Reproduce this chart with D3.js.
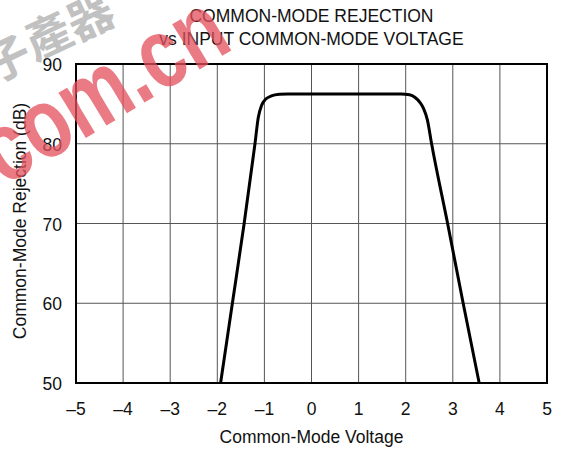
<!DOCTYPE html>
<html>
<head>
<meta charset="utf-8">
<script src="https://cdn.jsdelivr.net/npm/d3@7"></script>
<style>
  body { margin: 0; background: #fff; }
  svg text { font-family: 'Liberation Sans', Arial, sans-serif; }
</style>
</head>
<body>
<div id="chart"></div>
<script>
// curve: input common-mode voltage (V) vs CMR (dB)
const voltage = [-1.93, -1.68, -1.43, -1.2, -1.13, -1.06, -0.97, -0.85, -0.68, -0.5, 0, 1, 1.9, 2.08, 2.2, 2.3, 2.38, 2.46, 2.55, 2.89, 3.22, 3.56];
const cmr = [50, 60, 70, 80, 83.3, 84.8, 85.6, 86.0, 86.2, 86.25, 86.25, 86.25, 86.25, 86.15, 85.8, 85.2, 84.4, 83.0, 80, 70, 60, 50];
const xTicks = [-5, -4, -3, -2, -1, 0, 1, 2, 3, 4, 5];
const yTicks = [50, 60, 70, 80, 90];
const titleLines = ['COMMON-MODE REJECTION', 'vs INPUT COMMON-MODE VOLTAGE'];

const width = 565;
const height = 450;
const margin = { top: 64, right: 18, bottom: 67, left: 76 };
const w = width - margin.left - margin.right;
const h = height - margin.top - margin.bottom;
const fs = '17.5px';

const svg = d3
  .select('#chart')
  .append('svg')
  .attr('width', width)
  .attr('height', height);

const x = d3.scaleLinear().domain([-5, 5]).range([0, w]);
const y = d3.scaleLinear().domain([50, 90]).range([h, 0]);

const g = svg.append('g').attr('transform', 'translate(' + margin.left + ',' + margin.top + ')');

// grid
g.append('g')
  .selectAll('line')
  .data(xTicks.slice(1, -1))
  .join('line')
  .attr('x1', (d) => x(d))
  .attr('x2', (d) => x(d))
  .attr('y1', 0)
  .attr('y2', h)
  .style('stroke', '#555')
  .style('stroke-width', 1);

g.append('g')
  .selectAll('line')
  .data(yTicks.slice(1, -1))
  .join('line')
  .attr('x1', 0)
  .attr('x2', w)
  .attr('y1', (d) => y(d))
  .attr('y2', (d) => y(d))
  .style('stroke', '#555')
  .style('stroke-width', 1);

// tick labels
g.append('g')
  .selectAll('text')
  .data(xTicks)
  .join('text')
  .text((d) => (d < 0 ? '\u2013' + Math.abs(d) : d))
  .attr('x', (d) => x(d))
  .attr('y', h + 32)
  .attr('text-anchor', 'middle')
  .style('font-size', fs)
  .style('fill', '#111');

g.append('g')
  .selectAll('text')
  .data(yTicks)
  .join('text')
  .text((d) => d)
  .attr('x', -14)
  .attr('y', (d) => y(d) + 7)
  .attr('text-anchor', 'end')
  .style('font-size', fs)
  .style('fill', '#111');

// curve
const pts = voltage.map((v, i) => [v, cmr[i]]);
const line = d3
  .line()
  .x((d) => x(d[0]))
  .y((d) => y(d[1]))
  .curve(d3.curveMonotoneX);

g.append('path')
  .datum(pts)
  .attr('d', line)
  .style('fill', 'none')
  .style('stroke', '#000')
  .style('stroke-width', 3)
  .style('stroke-linejoin', 'round');

// frame
g.append('rect')
  .attr('x', 0)
  .attr('y', 0)
  .attr('width', w)
  .attr('height', h)
  .style('fill', 'none')
  .style('stroke', '#000')
  .style('stroke-width', 2);

// axis titles
svg
  .append('text')
  .text('Common-Mode Voltage')
  .attr('x', margin.left + w / 2)
  .attr('y', 443)
  .attr('text-anchor', 'middle')
  .style('font-size', fs)
  .style('fill', '#111');

svg
  .append('text')
  .text('Common-Mode Rejection (dB)')
  .attr('transform', 'translate(26,221) rotate(-90)')
  .attr('text-anchor', 'middle')
  .style('font-size', fs)
  .style('fill', '#111');

// title
svg
  .append('g')
  .selectAll('text')
  .data(titleLines)
  .join('text')
  .text((d) => d)
  .attr('x', margin.left + w / 2)
  .attr('y', (d, i) => 22 + i * 23)
  .attr('text-anchor', 'middle')
  .style('font-size', fs)
  .style('fill', '#111');

// watermark sits over the chart
const wmChars = [
  { c: '子', x: 6, y: 56 },
  { c: '產', x: 47, y: 33 },
  { c: '器', x: 89, y: 14 }
];
svg
  .append('g')
  .selectAll('text')
  .data(wmChars)
  .join('text')
  .text((d) => d.c)
  .attr('transform', (d) => 'translate(' + d.x + ',' + d.y + ') rotate(-25)')
  .attr('text-anchor', 'middle')
  .attr('dominant-baseline', 'central')
  .style('font-family', "'Noto Sans CJK SC', sans-serif")
  .style('font-size', '46px')
  .style('font-weight', 'bold')
  .style('fill', '#999')
  .style('opacity', 0.6);

svg
  .append('text')
  .text('com.cn')
  .attr('transform', 'translate(4,187) rotate(-31)')
  .attr('textLength', 270)
  .attr('lengthAdjust', 'spacingAndGlyphs')
  .style('font-size', '100px')
  .style('font-weight', 'bold')
  .style('fill', '#e4505c')
  .style('opacity', 0.75);
</script>
</body>
</html>
